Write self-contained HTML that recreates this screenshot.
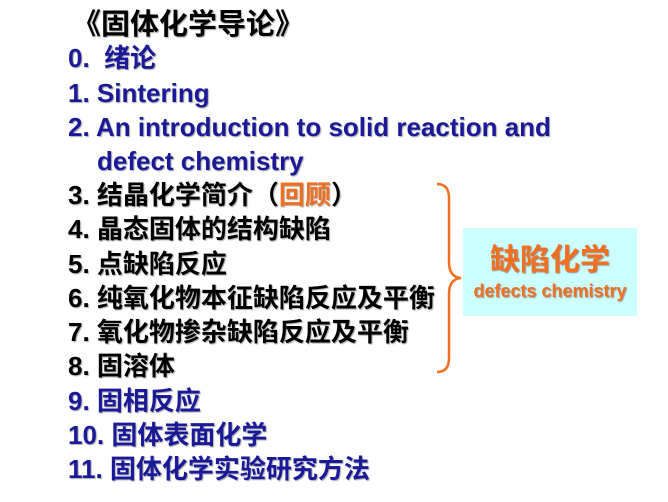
<!DOCTYPE html>
<html><head><meta charset="utf-8"><style>
body{margin:0;width:668px;height:502px;background:#fff;position:relative;overflow:hidden;font-family:"Liberation Sans","Noto Sans CJK SC",sans-serif;font-weight:bold;}
.l{position:absolute;left:68px;font-size:26px;line-height:34px;white-space:nowrap;text-shadow:1px 1px 1px #aaa;}
.b{color:#1a1a99}.k{color:#000}.o{color:#f07020}
</style></head><body>
<div class="l k" style="left:72px;top:6px;font-size:29px;line-height:38px">《固体化学导论》</div>
<div class="l b" style="top:41px">0.&nbsp; 绪论</div>
<div class="l b" style="top:76px">1. Sintering</div>
<div class="l b" style="top:110px">2. An introduction to solid reaction and</div>
<div class="l b" style="top:144px;left:97px">defect chemistry</div>
<div class="l k" style="top:178px">3. 结晶化学简介（<span class="o">回顾</span>）</div>
<div class="l k" style="top:212px">4. 晶态固体的结构缺陷</div>
<div class="l k" style="top:247px">5. 点缺陷反应</div>
<div class="l k" style="top:281px">6. 纯氧化物本征缺陷反应及平衡</div>
<div class="l k" style="top:315px">7. 氧化物掺杂缺陷反应及平衡</div>
<div class="l k" style="top:349px">8. 固溶体</div>
<div class="l b" style="top:384px">9. 固相反应</div>
<div class="l b" style="top:418px">10. 固体表面化学</div>
<div class="l b" style="top:452px">11. 固体化学实验研究方法</div>
<svg style="position:absolute;left:0;top:0" width="668" height="502">
<path d="M437,184 Q449,184 449,198 L449,262 Q449,277 461,278 Q449,279 449,294 L449,358 Q449,372 437,372" fill="none" stroke="#f07020" stroke-width="2.5"/>
</svg>
<div style="position:absolute;left:463px;top:228px;width:174px;height:88px;background:#ccffff;text-align:center;color:#f07020;text-shadow:1px 1px 1px #999">
<div style="font-size:30px;line-height:34px;margin-top:16px">缺陷化学</div>
<div style="font-size:18px;line-height:22px;margin-top:2px;white-space:nowrap">defects chemistry</div>
</div>
</body></html>
